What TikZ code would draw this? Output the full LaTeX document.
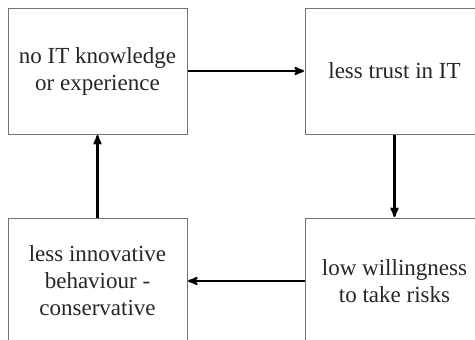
\documentclass[tikz,border=0pt]{standalone}
\usepackage{fontspec}
\setmainfont{Liberation Serif}
\usetikzlibrary{arrows,positioning}

\begin{document}
\begin{tikzpicture}[x=1pt,y=-1pt,>=stealth',auto]
  \tikzstyle{block}=[rectangle,draw=black!55,line width=1pt,fill=white,
                     minimum width=179pt,minimum height=126pt,
                     align=center,text=black!85,font=\fontsize{23}{27}\selectfont]
  \tikzstyle{flow}=[->,line width=2.2pt,shorten >=0.5pt]
  \useasboundingbox (0,0) rectangle (475,340);
  \clip (0,0) rectangle (475,340);
  \node [block] (know) at (97.5,71) {no IT knowledge\\or experience};
  \node [block] (trust) at (394.5,71) {less trust in IT};
  \node [block] (risk) at (394.5,281) {low willingness\\to take risks};
  \node [block] (innov) at (97.5,281) {less innovative\\behaviour -\\conservative};
  \draw [flow] (know) -- (trust);
  \draw [flow] (trust) -- (risk);
  \draw [flow] (risk) -- (innov);
  \draw [flow] (innov) -- (know);
\end{tikzpicture}
\end{document}
